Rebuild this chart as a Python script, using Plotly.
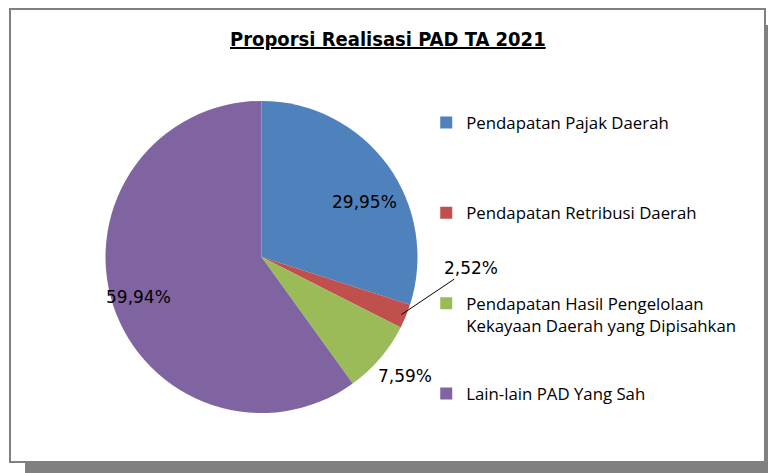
import math
import plotly.graph_objects as go

categories = [
    "Pendapatan Pajak Daerah",
    "Pendapatan Retribusi Daerah",
    "Pendapatan Hasil Pengelolaan<br>Kekayaan Daerah yang Dipisahkan",
    "Lain-lain PAD Yang Sah",
]
shares = [29.95, 2.52, 7.59, 59.94]
colors = ["#4F81BD", "#C0504D", "#9BBB59", "#8064A2"]

W, H = 768, 473
# pie placement in pixels (centre and radius)
cx, cy, r = 261.5, 257, 156

# pad legend entries to four lines so they sit far apart like in Excel
# (last one left alone so the legend doesn't push the margins)
legend_labels = []
for i, c in enumerate(categories):
    n = c.count("<br>") + 1
    pad = 0 if i == len(categories) - 1 else 4 - n
    legend_labels.append(c + "<br> " * pad)

pct_text = [f"{v:.2f}%".replace(".", ",") for v in shares]

fig = go.Figure(go.Pie(
    labels=legend_labels,
    values=shares,
    textinfo="none",
    marker=dict(colors=colors, line=dict(width=0)),
    sort=False,
    direction="clockwise",
    rotation=0,
    hoverinfo="skip",
    domain=dict(x=[(cx - r) / W, (cx + r) / W], y=[1 - (cy + r) / H, 1 - (cy - r) / H]),
))

# data labels along each slice's bisector: radius fraction + small pixel nudge
label_pos = [0.78, None, 1.19, 0.83]
label_nudge = [(5, -17), (0, 0), (2, 2), (0, 0)]
total = sum(shares)
start = 0
annotations = []
for v, t, f, (dx, dy) in zip(shares, pct_text, label_pos, label_nudge):
    mid = math.radians((start + v / 2) / total * 360)
    start += v
    if f is None:
        # small slice: label pulled out with a leader line
        px = cx + r * 0.97 * math.sin(mid)
        py = cy - r * 0.97 * math.cos(mid)
        annotations.append(dict(
            x=px / W, y=1 - py / H, xref="paper", yref="paper", text=t,
            showarrow=True, arrowhead=0, arrowwidth=1, arrowcolor="black",
            ax=70, ay=-47, xanchor="center", yanchor="middle",
            font=dict(family="DejaVu Sans", size=17, color="black"),
        ))
        continue
    px = cx + r * f * math.sin(mid)
    py = cy - r * f * math.cos(mid)
    annotations.append(dict(
        x=px / W, y=1 - py / H, xref="paper", yref="paper", text=t,
        showarrow=False, xanchor="center", yanchor="middle",
        xshift=dx, yshift=dy,
        font=dict(family="DejaVu Sans", size=17, color="black"),
    ))

fig.update_layout(
    width=W, height=H,
    margin=dict(l=0, r=0, t=0, b=0),
    paper_bgcolor="white",
    title=dict(
        text="<b>Proporsi Realisasi PAD TA 2021</b>",
        x=0.505, xanchor="center", y=1 - 39 / H, yanchor="middle",
        font=dict(family="Liberation Sans Narrow, DejaVu Sans Condensed", size=20,
                  color="black", lineposition="under"),
    ),
    legend=dict(
        x=0.555, xanchor="left", y=1 - 105 / H, yanchor="top",
        valign="top",
        font=dict(family="Open Sans", size=16.8, color="black"),
        bgcolor="rgba(0,0,0,0)",
    ),
    annotations=annotations,
    shapes=[
        dict(type="rect", xref="paper", yref="paper", layer="below",
             x0=25 / W, x1=800 / W, y0=1 - 500 / H, y1=1 - 25 / H,
             fillcolor="#808080", line=dict(width=0)),
        dict(type="rect", xref="paper", yref="paper", layer="below",
             x0=10 / W, x1=765 / W, y0=1 - 462 / H, y1=1 - 9 / H,
             fillcolor="white", line=dict(color="#808080", width=2)),
    ],
)

fig.write_html("out.html", config={"displayModeBar": False},
               post_script="document.body.style.margin='0';")
